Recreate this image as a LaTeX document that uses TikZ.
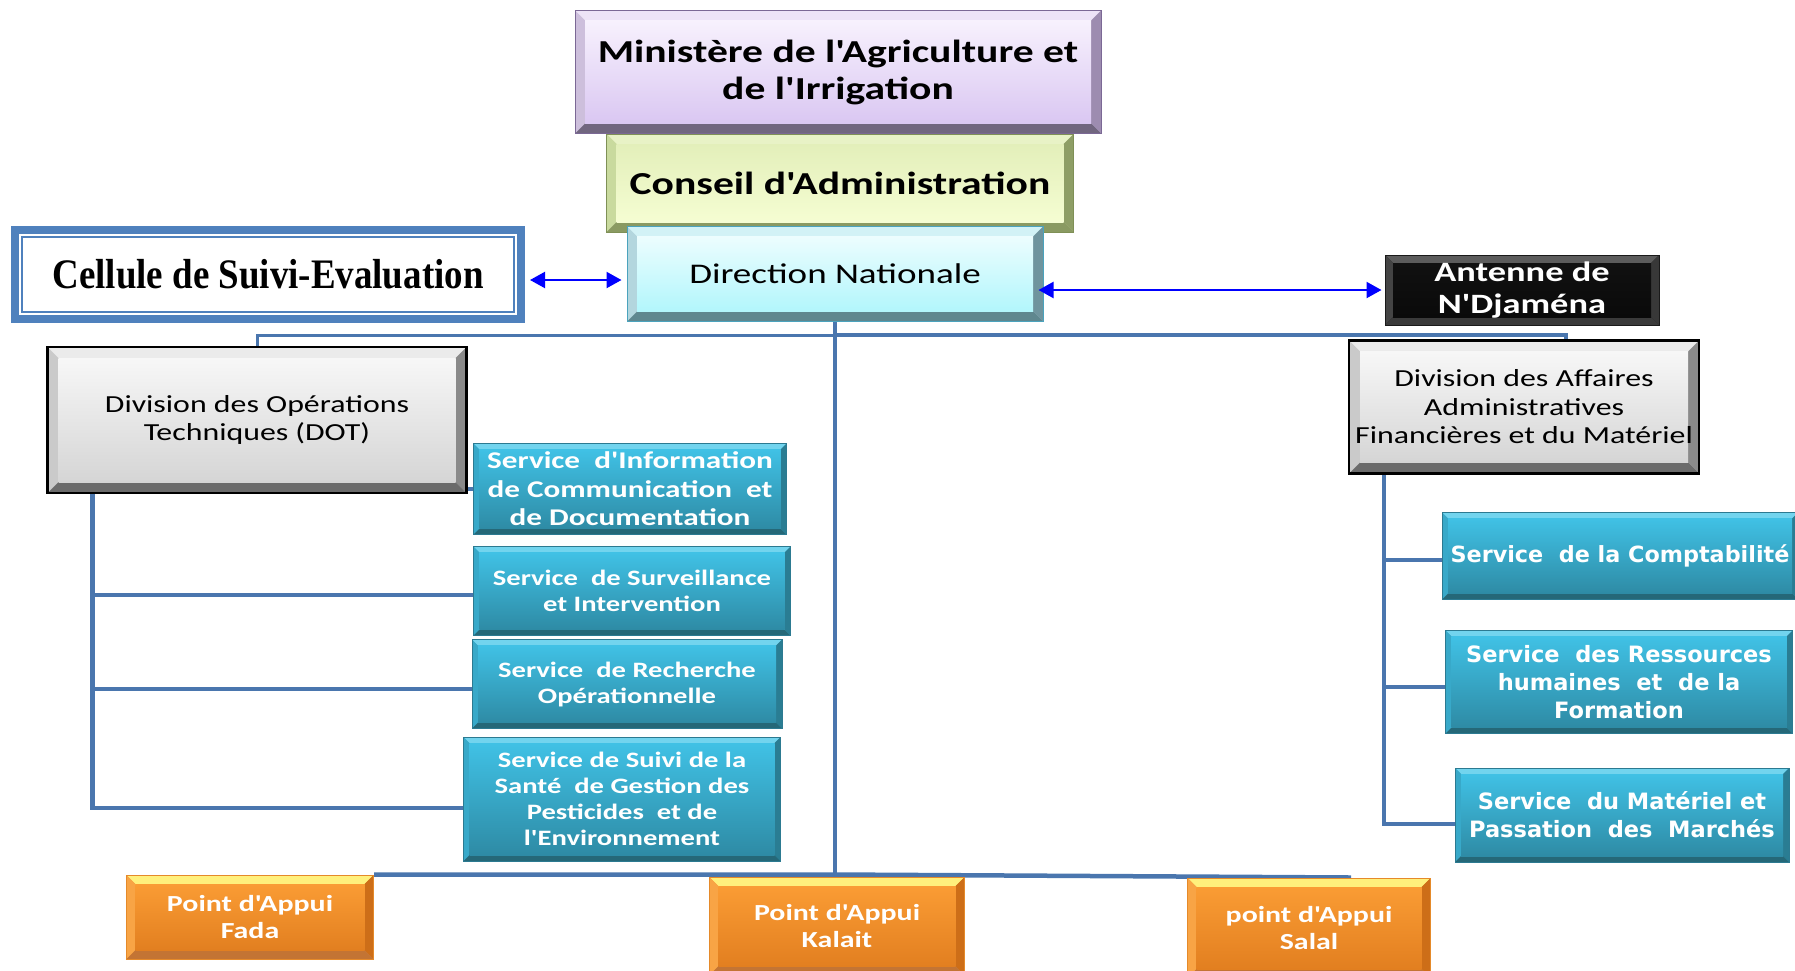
\documentclass[tikz,border=0pt]{standalone}
\usepackage{fontspec}
\usetikzlibrary{arrows.meta}

\newfontfamily\calfont{Carlito}[FakeStretch=1.3]
\newfontfamily\verfont{DejaVu Sans}
\newfontfamily\serfont{Liberation Serif}[FakeStretch=0.88]

% box colours: A/B inner gradient, Top/Left/Right/Bot bevel faces
\definecolor{minA}{HTML}{F7F1FD}\definecolor{minB}{HTML}{DAC7F2}
\definecolor{minTop}{HTML}{EDE3F7}\definecolor{minLeft}{HTML}{CDBFDC}
\definecolor{minRight}{HTML}{9D8CB0}\definecolor{minBot}{HTML}{71667F}
\definecolor{minLine}{HTML}{7B6895}
\definecolor{conA}{HTML}{E3EFBA}\definecolor{conB}{HTML}{F5FDD2}
\definecolor{conTop}{HTML}{E8F2C6}\definecolor{conLeft}{HTML}{C9DA9E}
\definecolor{conRight}{HTML}{8E9E66}\definecolor{conBot}{HTML}{8A9A62}
\definecolor{conLine}{HTML}{7F9056}
\definecolor{dnA}{HTML}{ECFDFE}\definecolor{dnB}{HTML}{B2F6FC}
\definecolor{dnTop}{HTML}{D2F2F6}\definecolor{dnLeft}{HTML}{B3D6DE}
\definecolor{dnRight}{HTML}{6F949E}\definecolor{dnBot}{HTML}{5F878F}
\definecolor{dnLine}{HTML}{4BA3BD}
\definecolor{antA}{HTML}{111111}\definecolor{antB}{HTML}{0A0A0A}
\definecolor{antTop}{HTML}{5C5C5C}\definecolor{antLeft}{HTML}{444444}
\definecolor{antRight}{HTML}{383838}\definecolor{antBot}{HTML}{3A3A3A}
\definecolor{antLine}{HTML}{1A1A1A}
\definecolor{divA}{HTML}{F7F7F7}\definecolor{divB}{HTML}{D5D5D5}
\definecolor{divTop}{HTML}{EBEBEB}\definecolor{divLeft}{HTML}{CACACA}
\definecolor{divRight}{HTML}{8A8A8A}\definecolor{divBot}{HTML}{6B6B6B}
\definecolor{divLine}{HTML}{000000}
\definecolor{srvA}{HTML}{40C1E5}\definecolor{srvB}{HTML}{2E8BA5}
\definecolor{srvTop}{HTML}{72D4EE}\definecolor{srvLeft}{HTML}{38A9C9}
\definecolor{srvRight}{HTML}{2A7D93}\definecolor{srvBot}{HTML}{256878}
\definecolor{srvLine}{HTML}{2C7A91}
\definecolor{paA}{HTML}{FA9C34}\definecolor{paB}{HTML}{E27F20}
\definecolor{paTop}{HTML}{FFF07C}\definecolor{paLeft}{HTML}{F8A445}
\definecolor{paRight}{HTML}{CD6E18}\definecolor{paBot}{HTML}{C37434}
\definecolor{paLine}{HTML}{E58A2A}
\definecolor{linkblue}{HTML}{4A76AE}
\definecolor{arrowblue}{HTML}{0000FF}
\definecolor{celblue}{HTML}{4F81BD}

\pgfdeclarelayer{background}
\pgfsetlayers{background,main}

\tikzset{
  bevel/.style 2 args={fill=#1A, draw=#1Line, line width=1pt, inner sep=0pt, align=center,
    path picture={
      \coordinate (pNW) at (path picture bounding box.north west);
      \coordinate (pNE) at (path picture bounding box.north east);
      \coordinate (pSW) at (path picture bounding box.south west);
      \coordinate (pSE) at (path picture bounding box.south east);
      \coordinate (iNW) at ([xshift=#2,yshift=-#2]pNW);
      \coordinate (iNE) at ([xshift=-#2,yshift=-#2]pNE);
      \coordinate (iSW) at ([xshift=#2,yshift=#2]pSW);
      \coordinate (iSE) at ([xshift=-#2,yshift=#2]pSE);
      \fill[#1Top] (pNW) -- (pNE) -- (iNE) -- (iNW) -- cycle;
      \fill[#1Left] (pNW) -- (iNW) -- (iSW) -- (pSW) -- cycle;
      \fill[#1Right] (pNE) -- (pSE) -- (iSE) -- (iNE) -- cycle;
      \fill[#1Bot] (pSW) -- (iSW) -- (iSE) -- (pSE) -- cycle;
      \shade[top color=#1A, bottom color=#1B] (iNW) rectangle (iSE);
    }},
  celframe/.style={draw=celblue, line width=8pt, fill=white, inner sep=0pt,
    path picture={
      \draw[celblue, line width=2pt]
        ([xshift=7pt,yshift=-7pt]path picture bounding box.north west) rectangle
        ([xshift=-7pt,yshift=7pt]path picture bounding box.south east);
    }},
  srvbox/.style={bevel={srv}{6pt}, text=white},
  pabox/.style={bevel={pa}{9pt}, text=white, font=\calfont\bfseries\fontsize{23}{27.5}\selectfont},
  divbox/.style={bevel={div}{11pt}, line width=2.5pt, font=\calfont\fontsize{24.5}{28.5}\selectfont},
  link/.style={draw=linkblue, line width=4.5pt},
  twoway/.style={draw=arrowblue, line width=2.2pt,
    {Triangle[length=15pt,width=16pt]}-{Triangle[length=15pt,width=16pt]}},
}

\begin{document}
\begin{tikzpicture}[x=1pt,y=-1pt]
    \useasboundingbox (0,0) rectangle (1795,970);
    \clip (0,0) rectangle (1795,970);

    % Top of the chart
    \node[bevel={min}{10pt}, minimum width=526pt, minimum height=123pt,
          font=\calfont\bfseries\fontsize{32}{37}\selectfont] (min) at (838,72)
          {Ministère de l'Agriculture et\\de l'Irrigation};
    \node[bevel={con}{10pt}, minimum width=467pt, minimum height=98pt,
          font=\calfont\bfseries\fontsize{32}{38}\selectfont] (con) at (840,183)
          {Conseil d'Administration};
    \node[bevel={dn}{10pt}, minimum width=416pt, minimum height=95pt,
          font=\calfont\fontsize{28.5}{34}\selectfont] (dn) at (835,274)
          {Direction Nationale};

    % Side boxes
    \node[celframe, minimum width=506pt, minimum height=89pt,
          font=\serfont\bfseries\fontsize{42}{46}\selectfont] (cel) at (268,274)
          {Cellule de Suivi-Evaluation};
    \node[bevel={ant}{8pt}, minimum width=274pt, minimum height=70pt, text=white,
          font=\calfont\bfseries\fontsize{28}{32}\selectfont] (ant) at (1522,290)
          {Antenne de\\N'Djaména};

    % Divisions
    \node[divbox, minimum width=419pt, minimum height=146pt] (dot) at (257,420)
          {Division des Opérations\\Techniques (DOT)};
    \node[divbox, minimum width=350pt, minimum height=133pt] (daaf) at (1524,407)
          {Division des Affaires\\Administratives\\Financières et du Matériel};

    % Services of the DOT
    \node[srvbox, minimum width=313pt, minimum height=91pt,
          font=\calfont\bfseries\fontsize{24}{28.5}\selectfont] (s1) at (630,489)
          {Service~ d'Information\\de Communication~ et\\de Documentation};
    \node[srvbox, minimum width=317pt, minimum height=89pt,
          font=\calfont\bfseries\fontsize{22}{26}\selectfont] (s2) at (632,591)
          {Service~ de Surveillance\\et Intervention};
    \node[srvbox, minimum width=310pt, minimum height=89pt,
          font=\calfont\bfseries\fontsize{22}{26}\selectfont] (s3) at (627,684)
          {Service~ de Recherche\\Opérationnelle};
    \node[srvbox, minimum width=317pt, minimum height=124pt,
          font=\calfont\bfseries\fontsize{22}{26}\selectfont] (s4) at (622,799)
          {Service de Suivi de la\\Santé~ de Gestion des\\Pesticides~ et de\\l'Environnement};

    % Services of the DAAF
    \node[srvbox, minimum width=356pt, minimum height=87pt,
          font=\verfont\bfseries\fontsize{22.3}{28}\selectfont] (r1) at (1620,556)
          {Service~ de la Comptabilité};
    \node[srvbox, minimum width=347pt, minimum height=103pt,
          font=\verfont\bfseries\fontsize{22.5}{28}\selectfont] (r2) at (1619,682)
          {Service~ des Ressources\\humaines~ et~ de la\\Formation};
    \node[srvbox, minimum width=334pt, minimum height=94pt,
          font=\verfont\bfseries\fontsize{22.5}{28}\selectfont] (r3) at (1622,815)
          {Service~ du Matériel et\\Passation~ des~ Marchés};

    % Points d'Appui
    \node[pabox, minimum width=247pt, minimum height=84pt] (fada) at (250,917)
          {Point d'Appui\\Fada};
    \node[pabox, minimum width=255pt, minimum height=98pt] (kalait) at (837,926)
          {Point d'Appui\\Kalait};
    \node[pabox, minimum width=243pt, minimum height=100pt] (salal) at (1309,928)
          {point d'Appui\\Salal};

    % Two-way links
    \coordinate (celarrow) at ([yshift=-6pt]cel.east);
    \draw[twoway, shorten <=5pt, shorten >=5pt] (celarrow) -- (celarrow -| dn.west);
    \draw[twoway, shorten <=-5pt, shorten >=3pt] (dn.east |- ant.west) -- (ant.west);

    % Hierarchy lines
    \begin{pgfonlayer}{background}
        \coordinate (dnbar) at ([yshift=-13pt]dn.south);
        \coordinate (pabar) at (dn.south |- fada.north);
        \draw[link] (dn.south) -- (pabar);
        \draw[link, line width=3pt] (dnbar) -| (dot.north);
        \draw[link] (dnbar) -| ([xshift=42pt]daaf.north);
        \draw[link] (fada.north east) -- (pabar) -- ([xshift=42pt]salal.north);

        % DOT spine
        \coordinate (dotspine) at ([xshift=46pt]dot.south west);
        \coordinate (s1in) at (s1.west);
        \coordinate (s2in) at ([yshift=-4pt]s2.west);
        \coordinate (s3in) at ([yshift=-5pt]s3.west);
        \coordinate (s4in) at ([yshift=-9pt]s4.west);
        \draw[link] (dotspine) |- (s4in);
        \draw[link] (dotspine |- s1in) -- (s1in);
        \draw[link] (dotspine |- s2in) -- (s2in);
        \draw[link] (dotspine |- s3in) -- (s3in);

        % DAAF spine
        \coordinate (daafspine) at ([xshift=36pt]daaf.south west);
        \coordinate (r1in) at ([yshift=-4pt]r1.west);
        \coordinate (r2in) at ([yshift=-5pt]r2.west);
        \coordinate (r3in) at ([yshift=-9pt]r3.west);
        \draw[link] (daafspine) |- (r3in);
        \draw[link] (daafspine |- r1in) -- (r1in);
        \draw[link] (daafspine |- r2in) -- (r2in);
    \end{pgfonlayer}
\end{tikzpicture}
\end{document}
